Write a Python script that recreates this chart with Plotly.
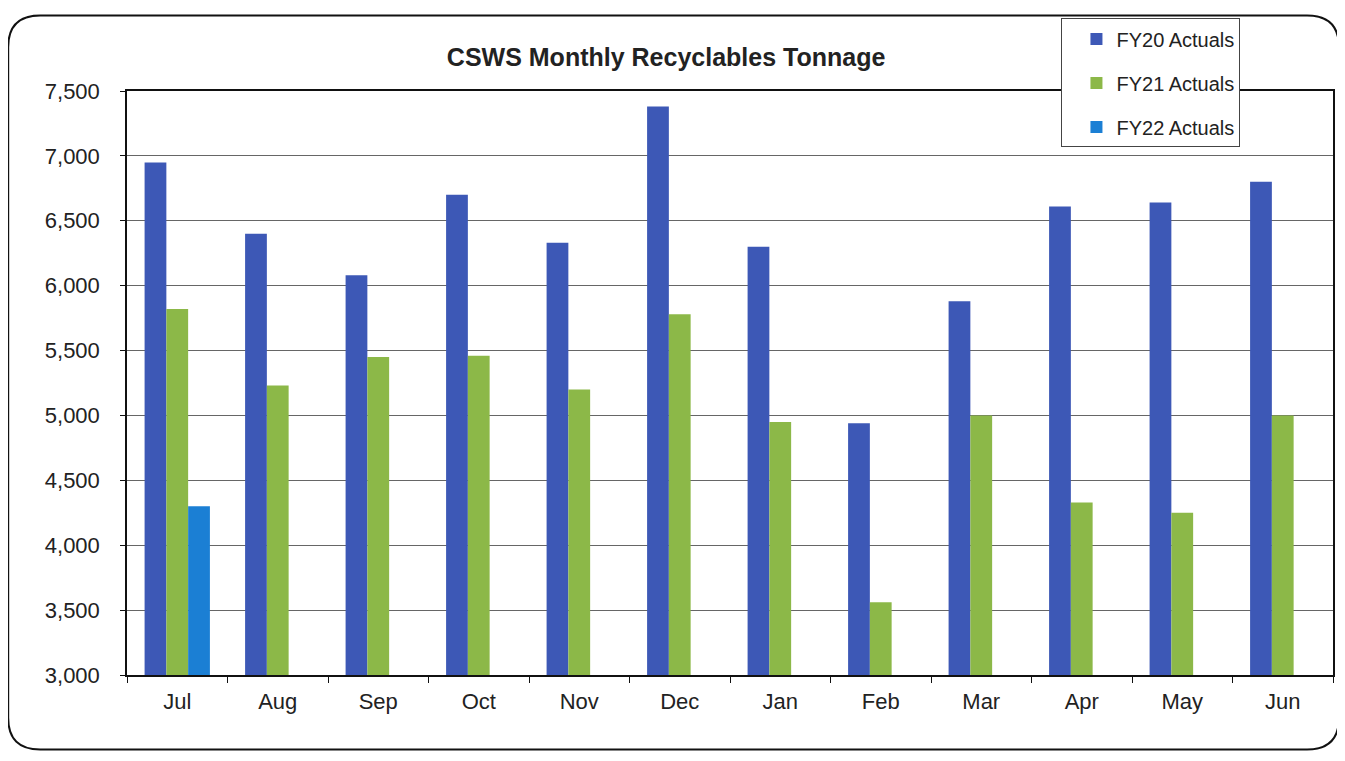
import plotly.graph_objects as go

# Monthly recyclables tonnage
months = ['Jul', 'Aug', 'Sep', 'Oct', 'Nov', 'Dec', 'Jan', 'Feb', 'Mar', 'Apr', 'May', 'Jun']
fy20 = [6950, 6400, 6080, 6700, 6330, 7380, 6300, 4940, 5880, 6610, 6640, 6800]
fy21 = [5820, 5230, 5450, 5460, 5200, 5780, 4950, 3560, 5000, 4330, 4250, 5000]
fy22 = [4300, None, None, None, None, None, None, None, None, None, None, None]

series_names = ['FY20 Actuals', 'FY21 Actuals', 'FY22 Actuals']
COLORS = ['#3d58b6', '#8cb848', '#1b7fd4']

y_ticks = [3000, 3500, 4000, 4500, 5000, 5500, 6000, 6500, 7000, 7500]

FONT = 'Liberation Sans, Arial, sans-serif'
OFF = 8  # page body margin
W, H = 1345 - OFF, 761 - OFF
L, R, T, B = 127 - OFF, 10, 87 - OFF, 86

fig = go.Figure()
for i, (name, vals) in enumerate(zip(series_names, [fy20, fy21, fy22])):
    fig.add_trace(go.Bar(
        x=months, y=vals, name=name,
        marker=dict(color=COLORS[i], line=dict(width=0)),
        legendgroup=name,
    ))

# helpers: screen pixel -> paper coordinates of the plot area
pw, ph = W - L - R, H - T - B
def px(x):
    return (x - OFF - L) / pw
def py(y):
    return (H - B - (y - OFF)) / ph

# rounded outer frame
x0, x1, y0, y1 = px(8), px(1341), py(750), py(11)
rx, ry = 32 / pw, 32 / ph
frame = (f"M{x0 + rx},{y1} L{x1 - rx},{y1} Q{x1},{y1} {x1},{y1 - ry} "
         f"L{x1},{y0 + ry} Q{x1},{y0} {x1 - rx},{y0} L{x0 + rx},{y0} "
         f"Q{x0},{y0} {x0},{y0 + ry} L{x0},{y1 - ry} Q{x0},{y1} {x0 + rx},{y1} Z")

fig.update_layout(
    width=W, height=H,
    margin=dict(l=L, r=R, t=T, b=B),
    paper_bgcolor='white', plot_bgcolor='white',
    font=dict(family=FONT, color='#222', size=20),
    barmode='group', bargap=0.35, bargroupgap=0,
    title=dict(text='<b>CSWS Monthly Recyclables Tonnage</b>',
               x=px(667), xref='paper', xanchor='center',
               y=(H - (57 - OFF)) / H, yanchor='middle',
               font=dict(size=25, color='#222')),
    legend=dict(x=px(1063), y=py(14), xanchor='left', yanchor='top',
                bgcolor='white', bordercolor='#444', borderwidth=1,
                font=dict(size=20, color='#222'), tracegroupgap=15,
                indentation=14, traceorder='grouped'),
    xaxis=dict(showline=True, linecolor='#111', linewidth=1.5, mirror=True,
               ticks='outside', tickson='boundaries', ticklen=6,
               tickcolor='#111', ticklabelstandoff=6,
               tickfont=dict(size=22), showgrid=False),
    yaxis=dict(range=[3000, 7500], tickvals=y_ticks, tickformat=',',
               showline=True, linecolor='#111', linewidth=1.5, mirror=True,
               ticks='outside', ticklen=5, tickcolor='#111',
               ticklabelstandoff=16, tickfont=dict(size=22),
               showgrid=True, gridcolor='#666', gridwidth=1),
    shapes=[dict(type='path', xref='paper', yref='paper', path=frame,
                 line=dict(color='#111', width=2), layer='above')],
)

fig.write_html('out.html')
